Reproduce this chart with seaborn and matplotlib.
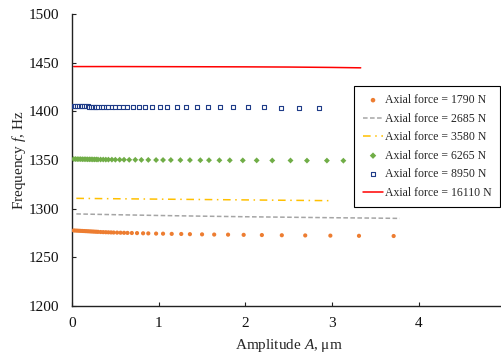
import matplotlib
matplotlib.use("Agg")
import matplotlib.pyplot as plt
import seaborn as sns
import pandas as pd

# ---- data ----
amp_1790 = [0.02, 0.04, 0.06, 0.08, 0.10, 0.12, 0.14, 0.16, 0.18, 0.20, 0.22, 0.24, 0.26, 0.28,
            0.30, 0.33, 0.36, 0.39, 0.42, 0.45, 0.48, 0.52, 0.56, 0.60, 0.64, 0.69, 0.75, 0.82,
            0.88, 0.97, 1.05, 1.15, 1.26, 1.36, 1.50, 1.64, 1.80, 1.98, 2.19, 2.42, 2.69, 2.98,
            3.31, 3.71]
freq_1790 = [1277.6, 1277.5, 1277.4, 1277.3, 1277.2, 1277.1, 1277.0, 1276.9, 1276.8, 1276.7,
             1276.6, 1276.5, 1276.4, 1276.3, 1276.2, 1276.0, 1275.9, 1275.8, 1275.7, 1275.6,
             1275.5, 1275.4, 1275.3, 1275.2, 1275.1, 1275.0, 1274.9, 1274.7, 1274.6, 1274.4,
             1274.3, 1274.1, 1274.0, 1273.8, 1273.6, 1273.4, 1273.3, 1273.1, 1272.9, 1272.7,
             1272.5, 1272.3, 1272.1, 1271.9]

amp_2685 = [0.05, 0.5, 1.0, 1.5, 2.0, 2.5, 3.0, 3.5, 3.78]
freq_2685 = [1294.6, 1293.8, 1293.0, 1292.3, 1291.7, 1291.2, 1290.7, 1290.3, 1290.0]

amp_3580 = [0.05, 0.5, 1.0, 1.5, 2.0, 2.5, 3.0]
freq_3580 = [1310.6, 1310.2, 1309.8, 1309.4, 1309.0, 1308.6, 1308.2]

amp_6265 = [0.02, 0.04, 0.06, 0.08, 0.10, 0.12, 0.14, 0.16, 0.18, 0.20, 0.22, 0.24, 0.26, 0.28,
            0.30, 0.33, 0.36, 0.39, 0.42, 0.46, 0.50, 0.55, 0.60, 0.66, 0.73, 0.80, 0.88, 0.97,
            1.05, 1.14, 1.25, 1.36, 1.48, 1.58, 1.70, 1.82, 1.97, 2.13, 2.31, 2.52, 2.71, 2.94,
            3.13]
freq_6265 = [1351.0, 1351.0, 1350.9, 1350.9, 1350.9, 1350.8, 1350.8, 1350.8, 1350.7, 1350.7,
             1350.7, 1350.6, 1350.6, 1350.6, 1350.5, 1350.5, 1350.5, 1350.4, 1350.4, 1350.4,
             1350.3, 1350.3, 1350.3, 1350.2, 1350.2, 1350.1, 1350.1, 1350.0, 1350.0, 1350.0,
             1349.9, 1349.9, 1349.8, 1349.8, 1349.7, 1349.7, 1349.6, 1349.6, 1349.5, 1349.5,
             1349.4, 1349.4, 1349.3]

amp_8950 = [0.02, 0.04, 0.06, 0.08, 0.10, 0.12, 0.14, 0.16, 0.18, 0.20, 0.22, 0.24, 0.26, 0.28,
            0.30, 0.33, 0.36, 0.39, 0.42, 0.46, 0.50, 0.54, 0.59, 0.64, 0.70, 0.77, 0.84, 0.92,
            1.01, 1.10, 1.21, 1.32, 1.44, 1.57, 1.71, 1.86, 2.03, 2.21, 2.41, 2.62, 2.85]
freq_8950 = [1405.2, 1405.2, 1405.1, 1405.1, 1405.1, 1405.0, 1405.0, 1405.0, 1405.0, 1404.9,
             1404.9, 1404.9, 1404.9, 1404.8, 1404.8, 1404.8, 1404.8, 1404.7, 1404.7, 1404.7,
             1404.6, 1404.6, 1404.6, 1404.5, 1404.5, 1404.5, 1404.4, 1404.4, 1404.4, 1404.3,
             1404.3, 1404.3, 1404.2, 1404.2, 1404.1, 1404.1, 1404.0, 1404.0, 1403.9, 1403.9,
             1403.8]

amp_16110 = [0.02, 0.5, 1.0, 1.5, 2.0, 2.5, 3.0, 3.33]
freq_16110 = [1446.0, 1446.0, 1445.9, 1445.8, 1445.7, 1445.5, 1445.1, 1444.7]

labels = ["Axial force = 1790 N", "Axial force = 2685 N", "Axial force = 3580 N",
          "Axial force = 6265 N", "Axial force = 8950 N", "Axial force = 16110 N"]

x_ticks = [0, 1, 2, 3, 4]
y_ticks = [1200, 1250, 1300, 1350, 1400, 1450, 1500]

# ---- plot ----
sns.set_style("white")
plt.rcParams["font.family"] = ["Liberation Serif", "DejaVu Serif"]
plt.rcParams["mathtext.fontset"] = "custom"
plt.rcParams["mathtext.it"] = "Liberation Serif:italic"
plt.rcParams["mathtext.rm"] = "Liberation Serif"

fig = plt.figure(figsize=(5.02, 3.56), dpi=100)
ax = fig.add_axes([72 / 502, 1 - 306 / 356, 433.5 / 502, 292 / 356])

def df(a, f):
    return pd.DataFrame({"A": a, "f": f})

sns.scatterplot(data=df(amp_1790, freq_1790), x="A", y="f", ax=ax, marker="o", s=9,
                color="#ED7D31", edgecolor="none", label=labels[0], zorder=3)
sns.lineplot(data=df(amp_2685, freq_2685), x="A", y="f", ax=ax, color="#A5A5A5",
             linewidth=1.1, label=labels[1])
ax.lines[-1].set_dashes([3, 1.6])
sns.lineplot(data=df(amp_3580, freq_3580), x="A", y="f", ax=ax, color="#FFC000",
             linewidth=1.1, label=labels[2])
ax.lines[-1].set_dashes([5, 3, 1, 3])
sns.scatterplot(data=df(amp_6265, freq_6265), x="A", y="f", ax=ax, marker="D", s=9,
                color="#70AD47", edgecolor="none", label=labels[3], zorder=3)
sns.scatterplot(data=df(amp_8950, freq_8950), x="A", y="f", ax=ax, marker="s", s=8,
                facecolor="white", edgecolor="#1F3C88", linewidth=0.8, label=labels[4], zorder=3)
sns.lineplot(data=df(amp_16110, freq_16110), x="A", y="f", ax=ax, color="#FF0000",
             linewidth=1.1, label=labels[5])

ax.set_xlim(0, 5)
ax.set_ylim(1200, 1500)
ax.set_xticks(x_ticks)
ax.set_yticks(y_ticks)
ax.tick_params(axis="both", direction="in", length=3, width=0.8, labelsize=11, colors="#222222",
               labelcolor="#111111", left=True, bottom=True)
ax.tick_params(axis="x", pad=8)
ax.tick_params(axis="y", pad=9.5)
for s in ["top", "right"]:
    ax.spines[s].set_visible(False)
for s in ["left", "bottom"]:
    ax.spines[s].set_color("#222222")
    ax.spines[s].set_linewidth(1.0)

ax.set_xlabel("Amplitude $A$, μm", fontsize=11, labelpad=5)
ax.set_ylabel("Frequency $f$, Hz", fontsize=11, labelpad=0)

leg = ax.legend(loc="upper right", bbox_to_anchor=(500 / 502, 1 - 86 / 356),
                bbox_transform=fig.transFigure, fontsize=8.5, frameon=True, fancybox=False,
                edgecolor="black", framealpha=1, borderpad=0.7, labelspacing=0.55,
                handlelength=1.75, handletextpad=0.15, borderaxespad=0, markerscale=1.1)
leg.get_frame().set_linewidth(0.8)

fig.savefig("out.png", dpi=100)
